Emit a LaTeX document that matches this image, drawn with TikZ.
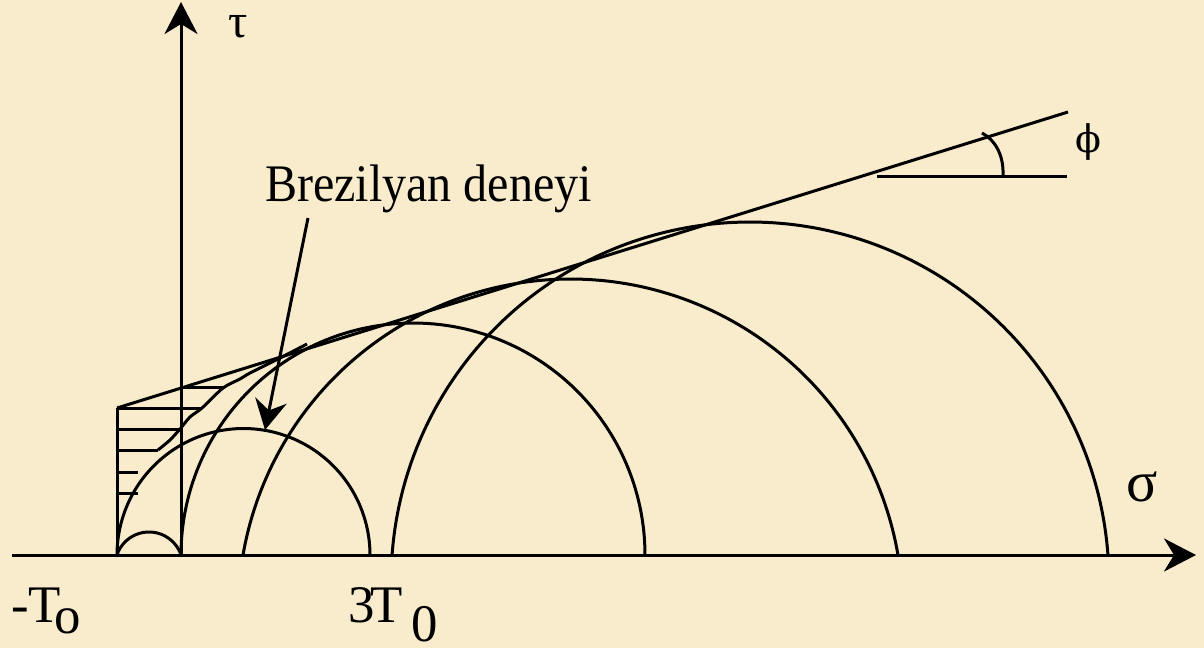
\documentclass[tikz,border=0pt]{standalone}
\usepackage{fontspec}
\setmainfont{Liberation Serif}
\newfontfamily\dvserif{DejaVu Serif}
\usetikzlibrary{arrows.meta}
\definecolor{parch}{HTML}{F8ECCD}
\begin{document}
\begin{tikzpicture}[x=0.5pt,y=-0.5pt,
  ln/.style={line width=1.5pt, black, line join=round},
  axisarrow/.style={ln, -{Stealth[length=16pt,width=16.5pt,inset=5pt]}},
  notearrow/.style={ln, -{Stealth[length=15pt,width=16pt,inset=5pt]}},
  lbl/.style={inner sep=0pt, outer sep=0pt, anchor=base west, font=\fontsize{26.4}{30}\selectfont},
  greek/.style={inner sep=0pt, outer sep=0pt, anchor=center}
]
\fill[parch] (0,0) rectangle (1204,648);
\useasboundingbox (0,0) rectangle (1204,648);

% axes
\coordinate (O) at (181,555);
\coordinate (xs) at (12,555);
\coordinate (xe) at (1196,555);
\coordinate (ye) at (181,2);
\draw[axisarrow] (xs) -- (xe);
\draw[axisarrow] (O) -- (ye);

% tension cut-off and straight envelope
\coordinate (A) at (117,555);
\coordinate (B) at (117,408);
\coordinate (L) at (1068,112);
\draw[ln] (A) -- (B);
\draw[ln] (B) -- (L);

% hatching
\foreach \yy/\xx in {408/202, 429/180, 450/158, 472/138, 493/138}
  \draw[ln] (117,\yy) -- (\xx,\yy);
\draw[ln] (181,387) -- (223,387);

% curved envelope
\draw[ln] plot[smooth, tension=0.5] coordinates {(158,450) (170,440) (180,429) (190,417) (202,408) (223,388) (240,379) (250,373) (280,358) (307,344)};

% Mohr circles
\draw[ln] plot[domain=18.6:161.4, samples=40] ({149+33.8*cos(\x)}, {565.8-33.8*sin(\x)});
\draw[ln] plot[domain=0:180, samples=90] ({243.5+126.5*cos(\x)}, {555-126.5*sin(\x)});
\draw[ln] plot[domain=0:180, samples=120] ({413+232*cos(\x)}, {555-232*sin(\x)});
\draw[ln] plot[domain=9.75:170.25, samples=140] ({570.5+332.3*cos(\x)}, {611.3-332.3*sin(\x)});
\draw[ln] plot[domain=4.14:175.86, samples=160] ({750+358.9*cos(\x)}, {580.9-358.9*sin(\x)});

% angle phi
\coordinate (h1) at (877,176);
\coordinate (h2) at (1067,176);
\draw[ln] (h1) -- (h2);
\draw[ln] (982,133) .. controls (995,140) and (1004,155) .. (1003,176);

% labels
\node[greek, font=\fontsize{24}{28}\selectfont] (tau) at (238,27) {τ};
\node[greek, font=\fontsize{29}{32}\selectfont] (sigma) at (1142,487) {σ};
\node[greek, font=\dvserif\fontsize{19}{22}\selectfont] (phi) at (1088,142) {ϕ};
\node[lbl] (brez) at (265,201) {\scalebox{0.91}[1]{Brezilyan deneyi}};
\node[lbl] (mT) at (11,622) {-T\kern-3pt\raisebox{-5.5pt}{o}};
\node[lbl] (tT) at (348,622) {3\kern-2pt T\kern4.5pt\raisebox{-9.5pt}{0}};

% pointer arrow
\coordinate (bs) at (308,218);
\coordinate (bt) at (265,430);
\draw[notearrow] (bs) -- (bt);
\end{tikzpicture}
\end{document}
